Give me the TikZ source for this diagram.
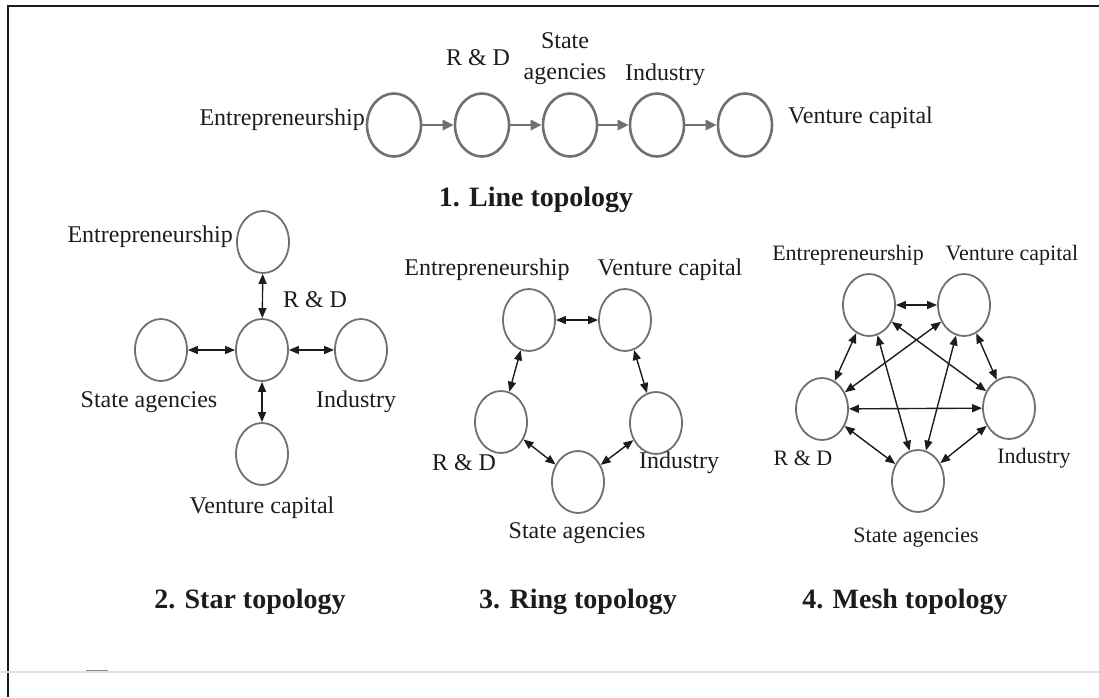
\documentclass[tikz,border=0pt]{standalone}
\usepackage{fontspec}
\setmainfont{Liberation Serif}
\usetikzlibrary{arrows.meta,shapes.geometric}
\definecolor{ringgray}{HTML}{707070}
\definecolor{inkgray}{HTML}{1C1C1C}

\begin{document}
\begin{tikzpicture}[x=1pt,y=-1pt,
    hub/.style={draw=ringgray, line width=1.8pt, ellipse, minimum width=52pt, minimum height=62pt, inner sep=0pt},
    chainhub/.style={hub, line width=2.6pt, minimum width=54pt, minimum height=63pt},
    lbl/.style={text=inkgray, font=\fontsize{24}{31}\selectfont, inner sep=0pt},
    meshlbl/.style={lbl, font=\fontsize{22}{26}\selectfont},
    topotitle/.style={text=inkgray, font=\bfseries\fontsize{28}{30}\selectfont, inner sep=0pt},
    link/.style={draw=inkgray, line width=1.4pt, {Triangle[length=10pt,width=8pt]}-{Triangle[length=10pt,width=8pt]}},
    chainarrow/.style={draw=ringgray, line width=2.6pt, -{Triangle[length=11pt,width=10pt]}}]
    \useasboundingbox (0,0) rectangle (1099,697);

    \draw[inkgray, line width=2.5pt] (8,697) -- (8,6) -- (1099,6);
    \draw[black!12, line width=2pt] (0,672) -- (1099,672);
    \draw[black!45, line width=1pt] (86,670) -- (108,670);

    \node[chainhub] (l1) at (394,125) {};
    \node[chainhub] (l2) at (482,125) {};
    \node[chainhub] (l3) at (570,125) {};
    \node[chainhub] (l4) at (657,125) {};
    \node[chainhub] (l5) at (745,125) {};
    \draw[chainarrow] (l1) -- (l2);
    \draw[chainarrow] (l2) -- (l3);
    \draw[chainarrow] (l3) -- (l4);
    \draw[chainarrow] (l4) -- (l5);
    \node[lbl, anchor=east] (l1-text) at (365,120) {Entrepreneurship};
    \node[lbl] (l2-text) at (478,58) {R \& D};
    \node[lbl, align=center] (l3-text) at (565,59) {State\\agencies};
    \node[lbl] (l4-text) at (665,75) {Industry};
    \node[lbl, anchor=west] (l5-text) at (788,118) {Venture capital};
    \node[topotitle] (line-title) at (536,200) {1. Line topology};

    \node[hub] (s-ent) at (263,242) {};
    \node[hub] (s-rd) at (262,350) {};
    \node[hub] (s-sa) at (161,350) {};
    \node[hub] (s-in) at (361,350) {};
    \node[hub] (s-vc) at (262,454) {};
    \draw[link] (s-rd) -- (s-ent);
    \draw[link] (s-rd) -- (s-sa);
    \draw[link] (s-rd) -- (s-in);
    \draw[link] (s-rd) -- (s-vc);
    \node[lbl, anchor=east] (s-ent-text) at (233,237) {Entrepreneurship};
    \node[lbl] (s-rd-text) at (315,300) {R \& D};
    \node[lbl] (s-sa-text) at (149,402) {State agencies};
    \node[lbl] (s-in-text) at (356,402) {Industry};
    \node[lbl] (s-vc-text) at (262,508) {Venture capital};
    \node[topotitle] (star-title) at (250,602) {2. Star topology};

    \node[hub] (r-ent) at (529,320) {};
    \node[hub] (r-vc) at (625,320) {};
    \node[hub] (r-in) at (656,423) {};
    \node[hub] (r-sa) at (578,482) {};
    \node[hub] (r-rd) at (501,422) {};
    \draw[link] (r-ent) -- (r-vc);
    \draw[link] (r-vc) -- (r-in);
    \draw[link] (r-in) -- (r-sa);
    \draw[link] (r-sa) -- (r-rd);
    \draw[link] (r-rd) -- (r-ent);
    \node[lbl] (r-ent-text) at (487,270) {Entrepreneurship};
    \node[lbl] (r-vc-text) at (670,270) {Venture capital};
    \node[lbl] (r-rd-text) at (464,463) {R \& D};
    \node[lbl] (r-in-text) at (679,463) {Industry};
    \node[lbl] (r-sa-text) at (577,533) {State agencies};
    \node[topotitle] (ring-title) at (578,602) {3. Ring topology};

    \node[hub] (m-ent) at (869,305) {};
    \node[hub] (m-vc) at (964,305) {};
    \node[hub] (m-in) at (1009,408) {};
    \node[hub] (m-sa) at (918,481) {};
    \node[hub] (m-rd) at (822,409) {};
    \draw[link] (m-ent) -- (m-vc);
    \draw[link] (m-ent) -- (m-rd);
    \draw[link] (m-ent) -- (m-in);
    \draw[link] (m-ent) -- (m-sa);
    \draw[link] (m-vc) -- (m-rd);
    \draw[link] (m-vc) -- (m-in);
    \draw[link] (m-vc) -- (m-sa);
    \draw[link] (m-rd) -- (m-in);
    \draw[link] (m-rd) -- (m-sa);
    \draw[link] (m-in) -- (m-sa);
    \node[meshlbl] (m-ent-text) at (848,255) {Entrepreneurship};
    \node[meshlbl] (m-vc-text) at (1012,255) {Venture capital};
    \node[meshlbl] (m-rd-text) at (803,458) {R \& D};
    \node[meshlbl] (m-in-text) at (1034,458) {Industry};
    \node[meshlbl] (m-sa-text) at (916,538) {State agencies};
    \node[topotitle] (mesh-title) at (905,602) {4. Mesh topology};
\end{tikzpicture}
\end{document}
